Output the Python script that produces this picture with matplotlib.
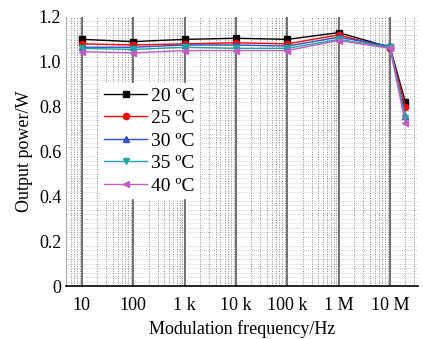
import matplotlib.pyplot as plt
from matplotlib.ticker import FixedLocator, LogLocator, NullFormatter

plt.rcParams['font.family'] = ['Liberation Serif', 'DejaVu Serif']

freq = [10, 100, 1e3, 1e4, 1e5, 1e6, 1e7, 2e7]
p20 = [1.10, 1.09, 1.10, 1.105, 1.10, 1.13, 1.065, 0.82]
p25 = [1.08, 1.075, 1.08, 1.085, 1.08, 1.12, 1.06, 0.80]
p30 = [1.065, 1.065, 1.075, 1.075, 1.07, 1.11, 1.07, 0.76]
p35 = [1.06, 1.055, 1.065, 1.06, 1.06, 1.10, 1.065, 0.75]
p40 = [1.045, 1.04, 1.05, 1.05, 1.05, 1.095, 1.06, 0.725]
labels = ['20 \u00baC', '25 \u00baC', '30 \u00baC', '35 \u00baC', '40 \u00baC']
xticklabels = ['10', '100', '1 k', '10 k', '100 k', '1 M', '10 M']

fig = plt.figure(figsize=(4.23, 3.39), dpi=100)
ax = fig.add_axes([0.156, 0.156, 0.832, 0.794])

styles = [('black', 's'), ('red', 'o'), ('#2f4fc8', '^'), ('#1fa5a0', 'v'), ('#c25cc4', '<')]
for ys, lab, (c, m) in zip([p20, p25, p30, p35, p40], labels, styles):
    ax.plot(freq, ys, color=c, marker=m, markersize=4.5, linewidth=1, label=lab)

ax.set_xscale('log')
ax.set_xlim(4.9, 3.5e7)
ax.set_ylim(0, 1.2)
ax.set_xticks([10, 100, 1e3, 1e4, 1e5, 1e6, 1e7])
ax.set_xticklabels(xticklabels)
ax.xaxis.set_minor_locator(LogLocator(base=10, subs=range(2, 10), numticks=20))
ax.xaxis.set_minor_formatter(NullFormatter())
ax.set_yticks([0, 0.2, 0.4, 0.6, 0.8, 1.0, 1.2])
ax.set_yticklabels(['0', '0.2', '0.4', '0.6', '0.8', '1.0', '1.2'])
ax.yaxis.set_minor_locator(FixedLocator([i * 0.02 for i in range(61)]))

ax.grid(True, which='major', axis='x', color='#555555', linewidth=1.2, linestyle='-')
ax.grid(True, which='minor', axis='x', color='#8a8a8a', linewidth=0.7, linestyle=(0, (1, 1.5)))
ax.grid(True, which='minor', axis='y', color='#aaaaaa', linewidth=0.5, linestyle=(0, (1, 2)))
ax.set_axisbelow(True)
ax.tick_params(which='both', length=0, labelsize=13)
ax.tick_params(axis='x', pad=8)

for s in ['top', 'right']:
    ax.spines[s].set_visible(False)
ax.spines['left'].set_color('#aaaaaa')
ax.spines['bottom'].set_linewidth(1.2)

ax.set_xlabel('Modulation frequency/Hz', fontsize=13)
ax.set_ylabel('Output power/W', fontsize=13)

leg = ax.legend(loc='upper left', bbox_to_anchor=(0.07, 0.79), fontsize=14, frameon=True,
                framealpha=1, edgecolor='white', facecolor='white', fancybox=False,
                handlelength=2.2, handletextpad=0.2, labelspacing=0.25, borderpad=0.2)

fig.savefig('out.png', dpi=100)
